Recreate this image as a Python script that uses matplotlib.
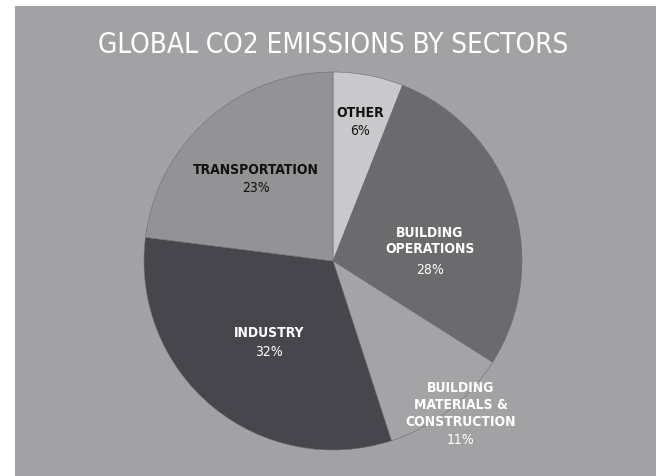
import matplotlib.pyplot as plt
from matplotlib.patches import Rectangle

sectors = ["OTHER", "BUILDING\nOPERATIONS", "BUILDING\nMATERIALS &\nCONSTRUCTION", "INDUSTRY", "TRANSPORTATION"]
shares = [6, 28, 11, 32, 23]
colors = ["#c9c9cb", "#6b6b6d", "#a4a4a6", "#47464c", "#939395"]
text_colors = ["#111111", "#ffffff", "#ffffff", "#ffffff", "#111111"]

# label anchor positions (pie data units) for name line block and percentage
name_pos = [(0.143, 0.788), (0.513, 0.111), (0.677, -0.757), (-0.339, -0.376), (-0.407, 0.487)]
pct_pos = [(0.143, 0.693), (0.513, -0.042), (0.677, -0.942), (-0.339, -0.476), (-0.407, 0.392)]

font = ["Liberation Sans Narrow", "DejaVu Sans"]

W, H = 656, 477
fig = plt.figure(figsize=(W / 100, H / 100), dpi=100)
fig.patch.set_facecolor("white")
fig.patches.append(Rectangle((15 / W, 0), 1 - 15 / W, 1 - 7 / H, transform=fig.transFigure,
                             facecolor="#a2a2a4", edgecolor="none", zorder=-5))

fig.text(333 / W, 1 - 45 / H, "GLOBAL CO2 EMISSIONS BY SECTORS", color="white",
         fontsize=20, ha="center", va="center", family=font, fontstretch="condensed")

cx, cy, r = 333, 262, 189
ax = fig.add_axes([(cx - r) / W, (H - cy - r) / H, 2 * r / W, 2 * r / H])
ax.pie(shares, colors=colors, startangle=90, counterclock=False, radius=1,
       wedgeprops=dict(edgecolor="#6e6e70", linewidth=0.4))
ax.set_xlim(-1, 1)
ax.set_ylim(-1, 1)
ax.set_aspect("equal")
ax.axis("off")

for name, val, tc, (nx, ny), (px, py) in zip(sectors, shares, text_colors, name_pos, pct_pos):
    ax.text(nx, ny, name, color=tc, fontsize=10, fontweight="bold", ha="center", va="center",
            linespacing=1.25, family=font, fontstretch="condensed")
    ax.text(px, py, f"{val}%", color=tc, fontsize=10, ha="center", va="center",
            family=font, fontstretch="condensed")

fig.savefig("out.png", dpi=100)
